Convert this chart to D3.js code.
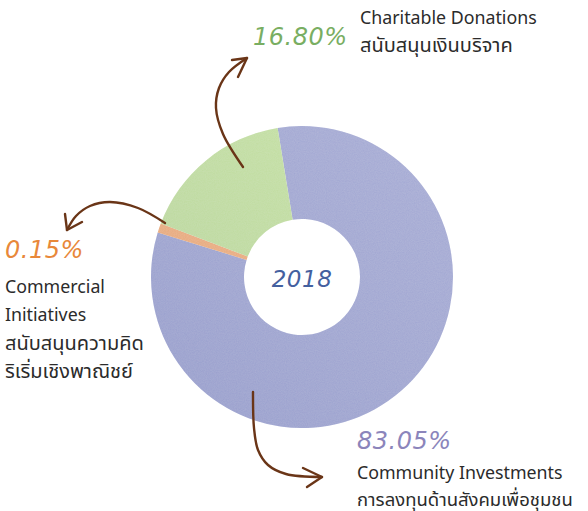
<!DOCTYPE html>
<html>
<head>
<meta charset="utf-8">
<script src="https://cdn.jsdelivr.net/npm/d3@7"></script>
<style>
  body { margin: 0; background: #fff; }
  svg { display: block; }
  .lbl { font-family: "Noto Sans", "Noto Sans Thai", Lato, sans-serif; font-size: 17.8px; fill: #2b2b2b; }
  .th { font-size: 20px; }
  .pct { font-family: "DejaVu Sans", sans-serif; font-style: oblique; font-size: 24px; letter-spacing: 0.5px; }
</style>
</head>
<body>
<div id="chart"></div>
<script>
// categories, clockwise from the top
const categories = ["Community Investments", "Commercial Initiatives", "Charitable Donations"];
const thaiNames = ["การลงทุนด้านสังคมเพื่อชุมชน", "สนับสนุนความคิดริเริ่มเชิงพาณิชย์", "สนับสนุนเงินบริจาค"];
const shares = [83.05, 0.15, 16.80];
const pctLabels = ["83.05%", "0.15%", "16.80%"];
const year = "2018";

const colors = ["#a0a6d2", "#f1ae78", "#c3e09e"];
const textColors = ["#8b85bb", "#e8883a", "#79ae62"];

const width = 588, height = 511;
const cx = 302, cy = 277, outerR = 151, innerR = 58;

const svg = d3.select("#chart").append("svg")
    .attr("width", width)
    .attr("height", height);

// watercolour-ish grain
const defs = svg.append("defs");
const f = defs.append("filter").attr("id", "grain")
    .attr("x", "-5%").attr("y", "-5%").attr("width", "110%").attr("height", "110%");
f.append("feTurbulence").attr("type", "fractalNoise").attr("baseFrequency", 0.9)
    .attr("numOctaves", 2).attr("seed", 3).attr("result", "noise");
f.append("feColorMatrix").attr("in", "noise").attr("type", "matrix")
    .attr("values", "0 0 0 0 1  0 0 0 0 1  0 0 0 0 1  0 0 0 0.12 0").attr("result", "white");
f.append("feComposite").attr("in", "white").attr("in2", "SourceGraphic").attr("operator", "in").attr("result", "speck");
f.append("feMerge").selectAll("feMergeNode").data(["SourceGraphic", "speck"]).enter()
    .append("feMergeNode").attr("in", d => d);

const shade = defs.append("linearGradient").attr("id", "shade")
    .attr("x1", "0").attr("y1", "1").attr("x2", "1").attr("y2", "0");
shade.append("stop").attr("offset", "0").attr("stop-color", "#2a3a85").attr("stop-opacity", 0.08);
shade.append("stop").attr("offset", "1").attr("stop-color", "#ffffff").attr("stop-opacity", 0.06);

const startAngle = -9.3 * Math.PI / 180;
const pie = d3.pie()
    .sort(null)
    .value(d => Math.max(d, 1.0))   // keep the thin slice visible
    .startAngle(startAngle)
    .endAngle(startAngle + 2 * Math.PI);

const arc = d3.arc().innerRadius(innerR).outerRadius(outerR);

const g = svg.append("g").attr("transform", `translate(${cx},${cy})`);
const arcs = pie(shares);

g.append("g").attr("filter", "url(#grain)")
  .selectAll("path")
  .data(arcs)
  .enter()
  .append("path")
    .attr("d", arc)
    .attr("fill", (d, i) => colors[i]);

g.append("path")
    .attr("d", d3.arc().innerRadius(innerR).outerRadius(outerR).startAngle(0).endAngle(2 * Math.PI)())
    .attr("fill", "url(#shade)");

g.append("text")
    .attr("text-anchor", "middle")
    .attr("y", 10)
    .attr("class", "pct")
    .style("font-size", "23px")
    .attr("fill", "#44609f")
    .text(year);

// arrows (hand-drawn look)
const arrows = [
  { path: [[243, 167], [223, 134], [216, 108], [219, 88], [229, 72], [247, 58]], head: [[232, 60], [247, 58], [238, 77]] },
  { path: [[165, 223], [138, 208], [110, 202], [90, 206], [76, 216], [67, 230]], head: [[65, 214], [67, 230], [82, 222]] },
  { path: [[253, 392], [254, 428], [258, 450], [268, 465], [286, 474], [322, 477]], head: [[303, 468], [322, 477], [307, 487]] }
];
const line = d3.line().curve(d3.curveCatmullRom);
const arrowG = svg.append("g")
    .attr("fill", "none")
    .attr("stroke", "#6a3517")
    .attr("stroke-linecap", "round")
    .attr("stroke-linejoin", "round");
arrows.forEach(a => {
  arrowG.append("path").attr("d", line(a.path)).attr("stroke-width", 2.4);
  arrowG.append("path").attr("d", d3.line()(a.head)).attr("stroke-width", 2.4);
});

// labels
const labels = [
  { i: 2, x: 253, py: 45, lx: 360, lines: [[24, categories[2]], [52, thaiNames[2], 20]] },
  { i: 1, x: 5, py: 258, lx: 5, lines: [[293, "Commercial"], [321, "Initiatives"], [350, "สนับสนุนความคิด", 20], [378, "ริเริ่มเชิงพาณิชย์", 20]] },
  { i: 0, x: 357, py: 449, lx: 357, lines: [[479, categories[0]], [506, thaiNames[0], 18.5]] }
];
labels.forEach(l => {
  svg.append("text")
      .attr("class", "pct")
      .attr("x", l.x)
      .attr("y", l.py)
      .attr("fill", textColors[l.i])
      .text(pctLabels[l.i]);
  l.lines.forEach(([y, t, th]) => {
    const tx = svg.append("text").attr("class", "lbl").attr("x", l.lx).attr("y", y).text(t);
    if (th) tx.style("font-size", th + "px");
  });
});
</script>
</body>
</html>
